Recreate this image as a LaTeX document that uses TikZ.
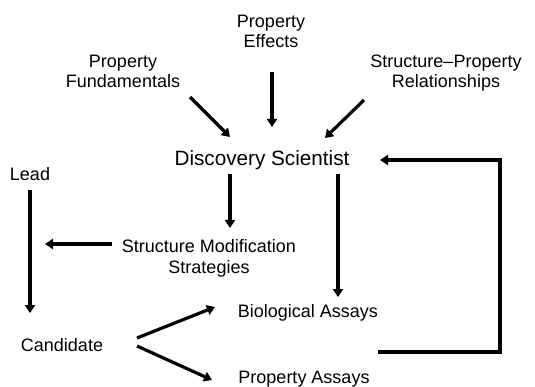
\documentclass[tikz,border=0pt]{standalone}
\usepackage{fontspec}
\setmainfont{Liberation Sans}
\usetikzlibrary{arrows.meta,calc}
\begin{document}
\begin{tikzpicture}[x=1pt,y=-1pt,
  lbl/.style={inner sep=0pt,align=center,font=\fontsize{18}{20.5}\selectfont,anchor=base},
  big/.style={inner sep=0pt,font=\fontsize{20.7}{23}\selectfont,anchor=base},
  arr/.style={line width=3.2pt,-{Triangle[length=8pt,width=10pt]}}]
\useasboundingbox (0,0) rectangle (535,387);
\node[lbl] (eff) at (271,48) {Property\\Effects};
\node[lbl] (fund) at (123,88) {Property\\Fundamentals};
\node[lbl] (spr) at (446,88) {Structure--Property\\Relationships};
\node[big] (ds) at (262,166) {Discovery Scientist};
\node[lbl] (lead) at (30,181) {Lead};
\node[lbl] (sms) at (209,273) {Structure Modification\\Strategies};
\node[lbl] (bio) at (308,317) {Biological Assays};
\node[lbl] (cand) at (62,351) {Candidate};
\node[lbl] (pa) at (304,383) {Property Assays};
% arrows into Discovery Scientist
\draw[arr] ($(eff.base)+(1,24)$) -- ($(ds.base)+(10,-39)$);
\draw[arr] ($(fund.base)+(67,9)$) -- ($(ds.base)+(-32,-29)$);
\draw[arr] ($(spr.base)+(-82,12)$) -- ($(ds.base)+(63,-28)$);
% arrows out of Discovery Scientist
\draw[arr] ($(ds.base)+(-32,8)$) -- ($(sms.base)+(21,-45)$);
\draw[arr] ($(ds.base)+(76,8)$) -- ($(bio.base)+(30,-20)$);
% feedback loop
\draw[arr] ($(bio.base)!0.5!(pa.base)+(72,2)$) -| ($(ds.base)+(238,-6)$) -- ($(ds.base)+(118,-6)$);
% lead to candidate
\draw[arr] ($(lead.base)+(0,9)$) -- ($(cand.base)+(-32,-38)$);
\draw[arr] ($(sms.base)+(-97,-29)$) -- ($(sms.base)+(-164,-29)$);
% candidate to assays
\draw[arr] ($(cand.base)+(75,-13)$) -- ($(bio.base)+(-93,-10)$);
\draw[arr] ($(cand.base)+(75,-5)$) -- ($(pa.base)+(-92,-3)$);
\end{tikzpicture}
\end{document}
